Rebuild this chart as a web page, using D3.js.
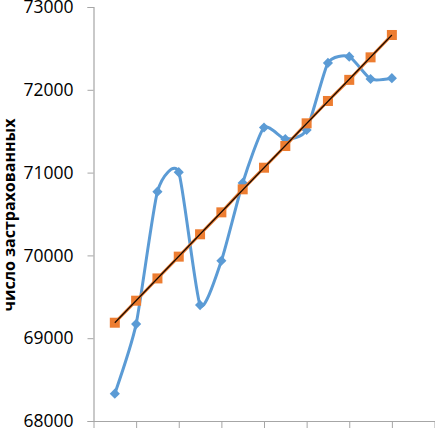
<!DOCTYPE html>
<html>
<head>
<meta charset="utf-8">
<script src="https://cdn.jsdelivr.net/npm/d3@7"></script>
<style>
  html, body { margin: 0; padding: 0; background: #fff; }
  svg { display: block; }
</style>
</head>
<body>
<svg id="chart"></svg>
<script>
// periods 1..14
var periods = [1, 2, 3, 4, 5, 6, 7, 8, 9, 10, 11, 12, 13, 14];
// actual number of insured (blue)
var actual = [68330, 69170, 70770, 71005, 69400, 69935, 70875, 71545, 71405, 71515, 72325, 72400, 72130, 72140];
// trend values (orange)
var trend = [69187, 69453, 69722, 69985, 70255, 70520, 70798, 71059, 71321, 71595, 71865, 72120, 72392, 72662];
var yTicks = [68000, 69000, 70000, 71000, 72000, 73000];
var xTicks = [0, 2, 4, 6, 8, 10, 12, 14, 16];

var width = 435, height = 428;

var svg = d3.select('#chart')
    .attr('width', width)
    .attr('height', height);

var x = d3.scaleLinear().domain([0, 16]).range([93.5, 434.5]);
var y = d3.scaleLinear().domain([68000, 73000]).range([421, 7]);

// y axis
var yAxis = svg.append('g')
    .attr('transform', 'translate(' + 93.5 + ',0)')
    .call(d3.axisLeft(y).tickValues(yTicks).tickSize(6).tickPadding(14).tickFormat(d3.format('d')));
yAxis.select('.domain').attr('stroke', '#a6a6a6').attr('stroke-width', 1.2);
yAxis.selectAll('.tick line').attr('stroke', '#a6a6a6');
yAxis.selectAll('.tick text')
    .attr('fill', '#000')
    .style('font-family', '"Open Sans", sans-serif')
    .style('font-size', '17.5px');

// x axis (labels fall outside the picture)
var xAxis = svg.append('g')
    .attr('transform', 'translate(0,' + 421 + ')')
    .call(d3.axisBottom(x).tickValues(xTicks).tickSize(7).tickSizeOuter(0).tickFormat(''));
xAxis.select('.domain').attr('stroke', '#a6a6a6').attr('stroke-width', 1.2);
xAxis.selectAll('.tick line').attr('stroke', '#a6a6a6');

// y axis title
svg.append('text')
    .attr('transform', 'translate(15,215)rotate(-90)')
    .attr('text-anchor', 'middle')
    .style('font-family', '"Open Sans", sans-serif')
    .style('font-weight', 'bold')
    .style('font-size', '16px')
    .attr('fill', '#000')
    .text('число застрахованных');

var actualData = periods.map(function (p, i) { return [p, actual[i]]; });
var trendData = periods.map(function (p, i) { return [p, trend[i]]; });

//smoothed actual line
var smooth = d3.line()
    .x(function (d) { return x(d[0]); })
    .y(function (d) { return y(d[1]); })
    .curve(d3.curveCardinal.tension(0.4));

svg.append('path')
    .datum(actualData)
    .attr('d', smooth)
    .attr('fill', 'none')
    .attr('stroke', '#5b9bd5')
    .attr('stroke-width', 3);

svg.selectAll('.diamond')
    .data(actualData)
    .enter()
    .append('path')
    .attr('class', 'diamond')
    .attr('d', d3.symbol().type(d3.symbolDiamond2).size(66))
    .attr('transform', function (d) { return 'translate(' + x(d[0]) + ',' + y(d[1]) + ')'; })
    .attr('fill', '#5b9bd5');

//trend series
var straight = d3.line()
    .x(function (d) { return x(d[0]); })
    .y(function (d) { return y(d[1]); });

svg.append('path')
    .datum(trendData)
    .attr('d', straight)
    .attr('fill', 'none')
    .attr('stroke', '#ed7d31')
    .attr('stroke-width', 3);

svg.selectAll('.square')
    .data(trendData)
    .enter()
    .append('rect')
    .attr('class', 'square')
    .attr('x', function (d) { return x(d[0]) - 5; })
    .attr('y', function (d) { return y(d[1]) - 5; })
    .attr('width', 10)
    .attr('height', 10)
    .attr('fill', '#ed7d31');

// linear trendline on top
svg.append('line')
    .attr('x1', x(periods[0]))
    .attr('y1', y(trend[0]))
    .attr('x2', x(periods[periods.length - 1]))
    .attr('y2', y(trend[trend.length - 1]))
    .attr('stroke', '#1a0a00')
    .attr('stroke-width', 1.2);
</script>
</body>
</html>
